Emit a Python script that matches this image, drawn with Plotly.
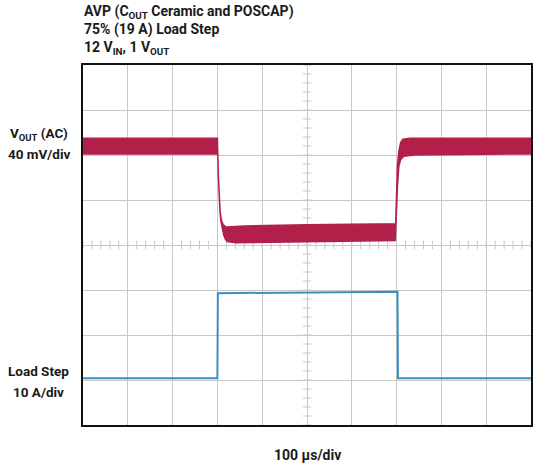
import plotly.graph_objects as go

# ---- data (time in µs, Vout in mV relative to pre-step level, current in A)
vout_top_t = [0, 300, 302, 304, 306, 309, 313, 320, 360, 500, 698, 699, 700, 702, 705, 709, 714, 730, 1000]
vout_top_v = [7, 7, -25, -48, -58, -66, -70, -72, -71, -70, -69, -55, -40, -17, -5, 3, 6, 7, 7]
vout_bot_t = [0, 301, 302, 304, 306, 308, 311, 314, 318, 322, 340, 500, 697, 698, 699, 700, 702, 705, 709, 716, 740, 1000]
vout_bot_v = [-7, -7, -25, -45, -60, -67, -74, -79, -83, -85, -86, -85, -84, -84, -72, -55, -35, -18, -12, -9, -8, -7]

load_t = [0, 300, 301, 702, 703, 1000]
load_a = [0, 0, 18.9, 19.2, 0, 0]

time_div_us = 100
n_xdiv = 10
n_ydiv = 8

RED = "#B2204A"
BLUE = "#3B8EC0"
GRID = "#c8c8c8"

fig = go.Figure()

# Vout band as a closed polygon (upper envelope then lower envelope reversed)
band_x = vout_top_t + vout_bot_t[::-1]
band_y = vout_top_v + vout_bot_v[::-1]
fig.add_trace(go.Scatter(x=band_x, y=band_y, yaxis="y2", mode="lines",
                         fill="toself", fillcolor=RED,
                         line=dict(color=RED, width=1.5),
                         hoverinfo="skip", showlegend=False))

# Load step
fig.add_trace(go.Scatter(x=load_t, y=load_a, yaxis="y3", mode="lines",
                         line=dict(color=BLUE, width=2),
                         hoverinfo="skip", showlegend=False))

# Center-line minor ticks (scope graticule)
xmax = time_div_us * n_xdiv
tick_x = [i * xmax / (n_xdiv * 5) for i in range(n_xdiv * 5 + 1)]
fig.add_trace(go.Scatter(x=tick_x, y=[n_ydiv / 2] * len(tick_x), mode="markers",
                         marker=dict(symbol="line-ns", size=6, line=dict(color=GRID, width=1)),
                         hoverinfo="skip", showlegend=False))
tick_y = [i / 5 for i in range(n_ydiv * 5 + 1)]
fig.add_trace(go.Scatter(x=[xmax / 2] * len(tick_y), y=tick_y, mode="markers",
                         marker=dict(symbol="line-ew", size=6, line=dict(color=GRID, width=1)),
                         hoverinfo="skip", showlegend=False))

FONT = "Roboto"
fig.update_layout(
    width=540, height=466,
    margin=dict(l=83, r=7, t=65, b=41),
    paper_bgcolor="white", plot_bgcolor="white",
    font=dict(family=FONT, size=14, color="#1a1a1a"),
    xaxis=dict(range=[0, xmax], dtick=time_div_us, showgrid=True, gridcolor=GRID, gridwidth=1,
               showticklabels=False, ticks="", zeroline=False,
               showline=True, mirror=True, linecolor="#111", linewidth=2),
    yaxis=dict(range=[0, n_ydiv], dtick=1, showgrid=True, gridcolor=GRID, gridwidth=1,
               showticklabels=False, ticks="", zeroline=False,
               showline=True, mirror=True, linecolor="#111", linewidth=2),
    yaxis2=dict(overlaying="y", range=[-248, 72], visible=False),
    yaxis3=dict(overlaying="y", range=[-10.4, 69.6], visible=False),
)

def ann(text, x, y, xanchor="left", size=14):
    fig.add_annotation(text=text, xref="paper", yref="paper", x=x, y=y,
                       xanchor=xanchor, yanchor="middle", showarrow=False,
                       borderpad=0,
                       font=dict(family=FONT, size=size, color="#1a1a1a"))

def py(p):  # pixel y -> paper y
    return (425 - p) / 360

def px(p):  # pixel x -> paper x
    return (p - 83) / 450

ann("<b>AVP (C<sub>OUT</sub> Ceramic and POSCAP)</b>", 0, py(12))
ann("<b>75% (19 A) Load Step</b>", 0, py(30))
ann("<b>12 V<sub>IN</sub>, 1 V<sub>OUT</sub></b>", 0, py(48))
ann("<b>V<sub>OUT</sub> (AC)</b>", px(39), py(134), xanchor="center", size=13.5)
ann("<b>40 mV/div</b>", px(39), py(154), xanchor="center", size=13.5)
ann("<b>Load Step</b>", px(38), py(371), xanchor="center", size=13.5)
ann("<b>10 A/div</b>", px(38), py(392), xanchor="center", size=13.5)
ann("<b>100 µs/div</b>", 0.5, py(455), xanchor="center")

fig.write_html("out.html",
               config={"displayModeBar": False},
               post_script="document.body.style.margin='0';document.body.style.overflow='hidden';")
